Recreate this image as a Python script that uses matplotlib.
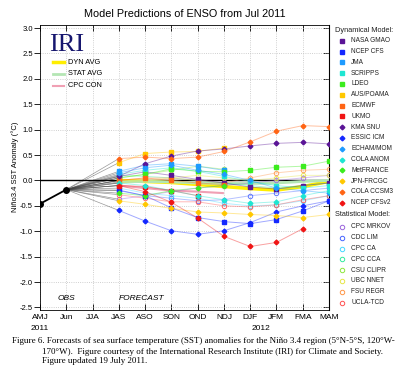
import matplotlib
matplotlib.use('Agg')
import matplotlib.pyplot as plt
from matplotlib import transforms
import numpy as np

nan = np.nan

seasons = ['AMJ', 'Jun', 'JJA', 'JAS', 'ASO', 'SON', 'OND', 'NDJ', 'DJF', 'JFM', 'FMA', 'MAM']
years = ['2011', '2012']
obs = [-0.46, -0.18]

# forecasts, JAS .. MAM
nasa_gmao = [0.08, 0.17, 0.10, 0.02, -0.05, -0.13, -0.17, -0.10, -0.05]
ncep_cfs = [-0.19, -0.30, -0.54, -0.73, -0.81, -0.85, -0.77, -0.60, -0.40]
jma = [0.18, 0.30, 0.33, 0.28, 0.20]
scripps = [0.12, 0.20, 0.25, 0.18, 0.08, -0.02, -0.10, -0.15, -0.10]
ldeo = [0.05, 0.12, 0.23, 0.18, 0.17, 0.20, 0.26, 0.28, 0.38]
aus_poama = [0.35, 0.53, 0.56, 0.57, 0.64]
ecmwf = [0.00, 0.05, 0.00, -0.05, -0.08]
ukmo = [-0.10, -0.12, -0.20, -0.30]
kma_snu = [0.08, 0.33, 0.48, 0.58, 0.62, 0.68, 0.73, 0.75, 0.72]
essic_icm = [-0.59, -0.80, -0.99, -1.06, -0.99, -0.83, -0.62, -0.50, -0.40]
echam_mom = [0.15, 0.25, 0.30, 0.20, 0.12, 0.00, -0.15, -0.20, -0.25]
cola_anom = [-0.05, -0.10, -0.20, -0.30, -0.38, -0.45, -0.42, -0.30, -0.20]
metfrance = [-0.25, -0.30, -0.20, -0.15, -0.10]
jpn_frcgc = [-0.40, -0.47, -0.55, -0.62, -0.64, -0.67, -0.69, -0.73, -0.67]
cola_ccsm3 = [0.43, 0.46, 0.43, 0.46, 0.57, 0.76, 0.97, 1.08, 1.06]
ncep_cfsv2 = [-0.10, -0.22, -0.43, -0.74, -1.10, -1.30, -1.22, -0.95]

cpc_mrkov = [-0.37, -0.30, -0.22, -0.15, -0.10, -0.05, 0.00, 0.05, 0.10]
cdc_lim = [-0.20, -0.30, -0.35, -0.40, -0.38, -0.30, -0.25, -0.20, -0.15]
cpc_ca = [-0.15, -0.25, -0.30, -0.35, -0.45, -0.50, -0.48, -0.40, -0.30]
cpc_cca = [0.10, 0.08, 0.05, 0.00, -0.05, -0.10, -0.15, -0.10, -0.05]
csu_clipr = [0.05, 0.12, 0.20, 0.28, 0.22]
ubc_nnet = [-0.05, 0.00, 0.05, 0.10, 0.05, 0.00, 0.05, 0.10, 0.10]
fsu_regr = [0.00, 0.05, 0.05, 0.00, -0.05, 0.05, 0.15, 0.20, 0.22]
ucla_tcd = [-0.28, -0.35, -0.42, -0.42, -0.50, -0.52, -0.48, -0.38, -0.30]

dyn_avg = [0.00, -0.02, -0.04, -0.08, -0.12, -0.16, -0.19, -0.12, -0.02]
stat_avg = [-0.03, -0.02, -0.03, -0.05, -0.06, -0.06, -0.05, -0.02, 0.00]
cpc_con = [-0.10, -0.15, -0.20, -0.22, -0.25]

dyn_names = ['NASA GMAO', 'NCEP CFS', 'JMA', 'SCRIPPS', 'LDEO', 'AUS/POAMA', 'ECMWF', 'UKMO',
             'KMA SNU', 'ESSIC ICM', 'ECHAM/MOM', 'COLA ANOM', 'MetFRANCE', 'JPN-FRCGC',
             'COLA CCSM3', 'NCEP CFSv2']
dyn_data = [nasa_gmao, ncep_cfs, jma, scripps, ldeo, aus_poama, ecmwf, ukmo,
            kma_snu, essic_icm, echam_mom, cola_anom, metfrance, jpn_frcgc, cola_ccsm3, ncep_cfsv2]
base_colors = ['#5a1496', '#1428ff', '#1e9bff', '#1ee6d2', '#3cec1e', '#ffc800', '#ff6414', '#f01414']
dyn_colors = base_colors + base_colors
dyn_markers = ['s'] * 8 + ['D'] * 8

stat_names = ['CPC MRKOV', 'CDC LIM', 'CPC CA', 'CPC CCA', 'CSU CLIPR', 'UBC NNET', 'FSU REGR', 'UCLA-TCD']
stat_data = [cpc_mrkov, cdc_lim, cpc_ca, cpc_cca, csu_clipr, ubc_nnet, fsu_regr, ucla_tcd]
stat_colors = ['#9a64dc', '#4664ff', '#46d8ff', '#32eaa0', '#8ce83c', '#e6e646', '#ff9646', '#ff5050']

avg_names = ['DYN AVG', 'STAT AVG', 'CPC CON']
avg_data = [dyn_avg, stat_avg, cpc_con]
avg_colors = ['#ffee00', '#b4e6b4', '#f0a0b4']
avg_widths = [2.5, 2.0, 1.5]

fig = plt.figure(figsize=(4, 3.68), dpi=100)
ax = fig.add_axes([40 / 400, 1 - 310 / 368, 289 / 400, 285 / 368])
sans = 'Liberation Sans'

x_fc = np.arange(3, 3 + 9)


def draw(vals, color, marker, filled, z):
    n = len(vals)
    xs = x_fc[:n]
    ax.plot([1, 3], [obs[-1], vals[0]], color='#444444', lw=0.5, alpha=0.55, zorder=2)
    ax.plot(xs, vals, color=color, lw=0.7, alpha=0.4, zorder=z)
    if filled:
        ax.plot(xs, vals, ls='none', marker=marker, ms=2.4, color=color, zorder=z + 1)
    else:
        ax.plot(xs, vals, ls='none', marker=marker, ms=3.2, mfc='none', mec=color, mew=0.7,
                alpha=0.85, zorder=z + 1)


for vals, c in zip(avg_data, avg_colors):
    ax.plot([1, 3], [obs[-1], vals[0]], color='#444444', lw=0.5, alpha=0.55, zorder=2)
for vals, c, w in zip(avg_data, avg_colors, avg_widths):
    ax.plot(x_fc[:len(vals)], vals, color=c, lw=w, zorder=4, solid_capstyle='butt')

for vals, c in zip(stat_data, stat_colors):
    draw(vals, c, 'o', False, 5)
for vals, c, m in zip(dyn_data, dyn_colors, dyn_markers):
    draw(vals, c, m, True, 6)

ax.axhline(0, color='black', lw=1.0, zorder=3)
ax.plot(range(len(obs)), obs, color='black', lw=1.3, marker='o', ms=4, zorder=8)

ax.set_xlim(0, 11)
ax.set_ylim(-2.55, 3.06)
yt = np.arange(-2.5, 3.01, 0.5)
ax.set_yticks(yt)
ax.set_yticklabels(['%.1f' % v for v in yt], fontsize=5.5, family=sans)
ax.set_xticks(range(len(seasons)))
ax.set_xticklabels(seasons, fontsize=6, family=sans)
ax.tick_params(axis='x', direction='in', top=True, length=4, width=0.6, pad=3)
ax.tick_params(axis='y', direction='out', length=4, width=0.6, pad=1)
sec = ax.secondary_yaxis('right')
sec.set_yticks(yt)
sec.set_yticklabels([])
sec.tick_params(direction='in', length=4, width=0.6)
ax.grid(True, linestyle=':', color='#c0c0c0', lw=0.6)
for s in ax.spines.values():
    s.set_linewidth(0.6)

trans = transforms.blended_transform_factory(ax.transData, ax.transAxes)
ax.text(0, -0.065, years[0], transform=trans, ha='center', va='center', fontsize=6, family=sans)
ax.text(8.4, -0.065, years[1], transform=trans, ha='center', va='center', fontsize=6, family=sans)
ax.text(1, -2.33, 'OBS', ha='center', va='center', fontsize=6, style='italic', family=sans)
ax.text(3.85, -2.33, 'FORECAST', ha='center', va='center', fontsize=6, style='italic', family=sans)

# overlay in pixel coordinates for titles, legends and caption
ov = fig.add_axes([0, 0, 1, 1])
ov.set_xlim(0, 400)
ov.set_ylim(368, 0)
ov.axis('off')

ov.text(184.5, 14, 'Model Predictions of ENSO from Jul 2011', ha='center', va='center',
        fontsize=7.8, family=sans)
ov.text(15, 167, 'Niño3.4 SST Anomaly (°C)', rotation=90, ha='center', va='center',
        fontsize=5.5, family=sans)
ov.text(49, 51, 'IRI', fontsize=19, family='Liberation Serif', color='#16166e', va='baseline')

for i, (name, c, w) in enumerate(zip(avg_names, avg_colors, avg_widths)):
    y = 62 + i * 11.8
    ov.plot([53, 64], [y, y], color=c, lw=w)
    ov.text(68, y, name, fontsize=5.3, family=sans, va='center')

ov.text(335, 30, 'Dynamical Model:', fontsize=5.3, family=sans, va='center', color='#222222')
for i, (name, c, m) in enumerate(zip(dyn_names, dyn_colors, dyn_markers)):
    y = 40.7 + i * 10.8
    ov.plot(342, y, marker=m, ms=2.4, color=c, ls='none')
    ov.text(351, y, name, fontsize=4.7, family=sans, va='center', color='#222222')

ov.text(335, 215, 'Statistical Model:', fontsize=5.3, family=sans, va='center', color='#222222')
for i, (name, c) in enumerate(zip(stat_names, stat_colors)):
    y = 227 + i * 10.8
    ov.plot(342, y, marker='o', ms=3.2, mfc='none', mec=c, mew=0.7, ls='none')
    ov.text(351, y, name, fontsize=4.7, family=sans, va='center', color='#222222')

serif = 'Liberation Serif'
ov.text(12, 341, 'Figure 6. Forecasts of sea surface temperature (SST) anomalies for the Niño 3.4 region (5°N-5°S, 120°W-',
        fontsize=6.5, family=serif, va='center')
ov.text(42, 351.5, '170°W).  Figure courtesy of the International Research Institute (IRI) for Climate and Society.',
        fontsize=6.5, family=serif, va='center')
ov.text(42, 361, 'Figure updated 19 July 2011.', fontsize=6.5, family=serif, va='center')

fig.savefig('out.png', dpi=100)
